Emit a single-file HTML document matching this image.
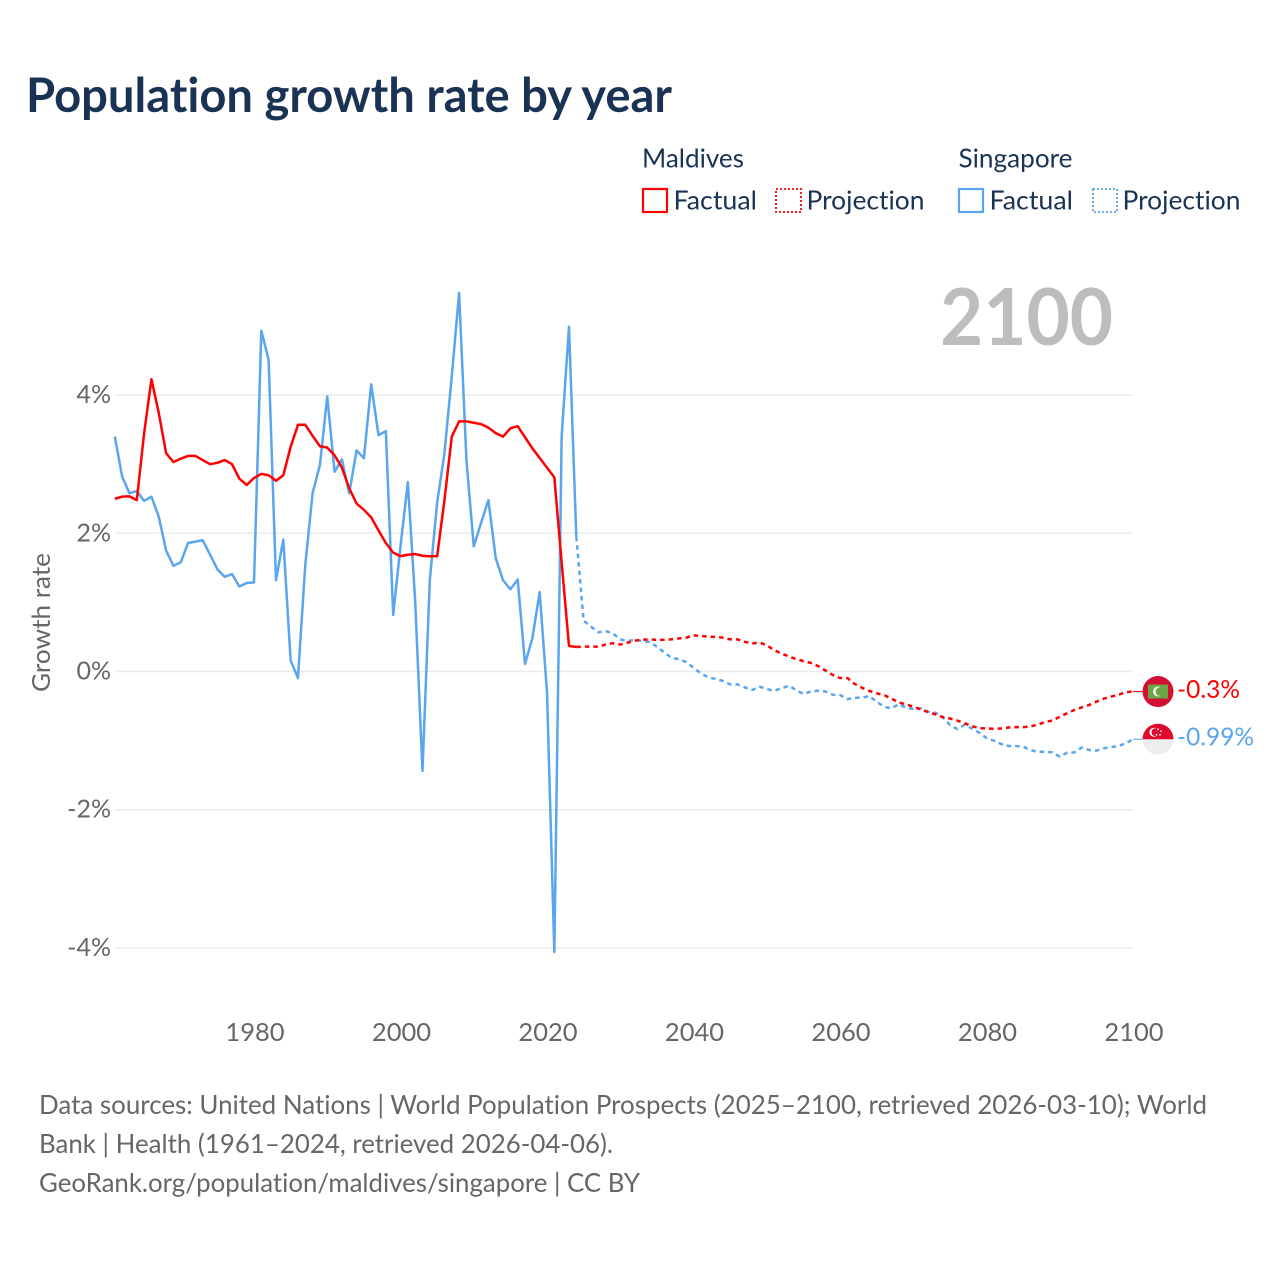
<!DOCTYPE html>
<html lang="en">
<head>
<meta charset="utf-8">
<title>Population growth rate by year</title>
<style>
html,body{margin:0;padding:0;background:#fff;width:1280px;height:1280px;overflow:hidden}
svg{display:block}
text{font-family:"Lato","Carlito","Liberation Sans",sans-serif;font-variant-ligatures:none}
</style>
</head>
<body>
<svg id="chart" width="1280" height="1280" viewBox="0 0 1280 1280" xmlns="http://www.w3.org/2000/svg">
  <text x="26" y="112" font-size="48" font-weight="700" fill="#1a3354" textLength="646" lengthAdjust="spacingAndGlyphs">Population growth rate by year</text>

  <g font-size="26" fill="#1a3354">
    <text x="642" y="167.5" textLength="102" lengthAdjust="spacingAndGlyphs">Maldives</text>
    <g>
      <rect x="643" y="189" width="24" height="23" fill="none" stroke="#ff0000" stroke-width="2.2"/>
      <text x="673.5" y="209.5" textLength="83.5" lengthAdjust="spacingAndGlyphs">Factual</text>
    </g>
    <g>
      <rect x="776" y="189" width="25" height="23" fill="none" stroke="#ff0000" stroke-width="1.8" stroke-dasharray="2 2"/>
      <text x="806.5" y="209.5" textLength="118" lengthAdjust="spacingAndGlyphs">Projection</text>
    </g>
    <text x="958.5" y="167.5" textLength="114" lengthAdjust="spacingAndGlyphs">Singapore</text>
    <g>
      <rect x="959" y="189" width="24" height="23" fill="none" stroke="#5aa5ee" stroke-width="2.2"/>
      <text x="989.5" y="209.5" textLength="83.5" lengthAdjust="spacingAndGlyphs">Factual</text>
    </g>
    <g>
      <rect x="1093" y="189" width="24" height="23" fill="none" stroke="#5aa5ee" stroke-width="1.8" stroke-dasharray="2 2"/>
      <text x="1122.5" y="209.5" textLength="118" lengthAdjust="spacingAndGlyphs">Projection</text>
    </g>
  </g>

  <text x="940" y="345" font-size="79" font-weight="700" fill="#bdbdbd" textLength="173" lengthAdjust="spacingAndGlyphs">2100</text>

  <g id="grid"></g>
  <g id="yticks"></g>
  <g id="xticks"></g>
  <text transform="translate(50 692) rotate(-90)" font-size="25" fill="#666666" textLength="139" lengthAdjust="spacingAndGlyphs">Growth rate</text>
  <g id="series"></g>

  <g id="flag-maldives">
    <circle cx="0" cy="0" r="15.5" fill="#d21034"/>
    <rect x="-10" y="-7" width="20" height="14" fill="#6aa644"/>
    <circle cx="0" cy="0" r="5" fill="#f4f4f4"/>
    <circle cx="2" cy="0" r="4.3" fill="#6aa644"/>
  </g>
  <g id="flag-singapore">
    <circle cx="0" cy="0" r="15.5" fill="#eeeeee"/>
    <path d="M-15.5 0A15.5 15.5 0 0 1 15.5 0Z" fill="#e00b2c"/>
    <circle cx="-4" cy="-7" r="4.5" fill="#ffffff"/>
    <circle cx="-2.5" cy="-7" r="4" fill="#e00b2c"/>
    <circle cx="0" cy="-10" r="0.9" fill="#ffffff"/>
    <circle cx="3" cy="-8" r="0.9" fill="#ffffff"/>
    <circle cx="2" cy="-4.5" r="0.9" fill="#ffffff"/>
    <circle cx="-1.5" cy="-4.5" r="0.9" fill="#ffffff"/>
  </g>
  <text id="label-maldives" x="1177" font-size="25.5" fill="#ff0000" textLength="63" lengthAdjust="spacingAndGlyphs"></text>
  <text id="label-singapore" x="1177" font-size="25.5" fill="#5aa5ee" textLength="77" lengthAdjust="spacingAndGlyphs"></text>

  <g font-size="26" fill="#666666">
    <text x="39" y="1114" textLength="1168" lengthAdjust="spacingAndGlyphs">Data sources: United Nations | World Population Prospects (2025–2100, retrieved 2026-03-10); World</text>
    <text x="39" y="1153" textLength="574" lengthAdjust="spacingAndGlyphs">Bank | Health (1961–2024, retrieved 2026-04-06).</text>
    <text x="39" y="1192" textLength="601" lengthAdjust="spacingAndGlyphs">GeoRank.org/population/maldives/singapore | CC BY</text>
  </g>
</svg>
<script>
const yTickValues = [4, 2, 0, -2, -4];
const xTickYears = [1980, 2000, 2020, 2040, 2060, 2080, 2100];
const factualStartYear = 1961;
const projectionStartYear = 2024;

const maldivesFactual = [2.50,2.53,2.535,2.48,3.45,4.23,3.74,3.16,3.03,3.08,3.12,3.12,3.06,3.0,3.02,3.06,3.0,2.79,2.70,2.80,2.86,2.84,2.76,2.84,3.25,3.57,3.57,3.41,3.26,3.24,3.13,2.95,2.65,2.43,2.34,2.23,2.04,1.86,1.72,1.67,1.69,1.70,1.675,1.667,1.667,2.48,3.40,3.62,3.62,3.60,3.58,3.53,3.45,3.40,3.52,3.55,3.39,3.23,3.09,2.95,2.81,1.58,0.37,0.355];
const maldivesProjection = [0.355,0.36,0.36,0.36,0.39,0.41,0.39,0.417,0.446,0.46,0.465,0.456,0.46,0.465,0.48,0.49,0.523,0.515,0.505,0.50,0.49,0.465,0.465,0.43,0.405,0.42,0.38,0.31,0.26,0.22,0.18,0.15,0.125,0.08,0.015,-0.05,-0.095,-0.094,-0.18,-0.234,-0.28,-0.316,-0.34,-0.39,-0.446,-0.475,-0.51,-0.547,-0.586,-0.62,-0.66,-0.68,-0.71,-0.75,-0.79,-0.82,-0.823,-0.83,-0.825,-0.81,-0.805,-0.805,-0.795,-0.77,-0.73,-0.71,-0.654,-0.605,-0.557,-0.52,-0.485,-0.437,-0.394,-0.365,-0.336,-0.30,-0.29];
const singaporeFactual = [3.40,2.82,2.58,2.61,2.47,2.53,2.24,1.75,1.53,1.58,1.86,1.88,1.90,1.69,1.48,1.37,1.41,1.23,1.28,1.29,4.93,4.51,1.32,1.91,0.16,-0.095,1.54,2.58,2.99,3.98,2.89,3.07,2.58,3.20,3.085,4.155,3.42,3.48,0.82,1.81,2.74,1.03,-1.44,1.32,2.44,3.16,4.27,5.48,3.06,1.81,2.15,2.48,1.64,1.32,1.19,1.33,0.11,0.48,1.15,-0.30,-4.06,3.40,4.99,1.95];
const singaporeProjection = [1.95,0.735,0.65,0.567,0.586,0.55,0.466,0.44,0.46,0.44,0.427,0.36,0.277,0.20,0.177,0.137,0.055,-0.026,-0.084,-0.108,-0.137,-0.186,-0.186,-0.23,-0.268,-0.22,-0.253,-0.28,-0.243,-0.205,-0.268,-0.326,-0.29,-0.278,-0.29,-0.336,-0.34,-0.40,-0.38,-0.38,-0.355,-0.437,-0.51,-0.533,-0.475,-0.52,-0.543,-0.533,-0.58,-0.596,-0.654,-0.774,-0.832,-0.774,-0.823,-0.885,-0.962,-1.0,-1.05,-1.078,-1.078,-1.088,-1.136,-1.165,-1.16,-1.17,-1.233,-1.175,-1.17,-1.10,-1.136,-1.146,-1.11,-1.095,-1.078,-1.04,-0.98];
const endLabelMaldives = "-0.3%";
const endLabelSingapore = "-0.99%";

const NS = "http://www.w3.org/2000/svg";
function xScale(year) { return 254 + (year - 1980) * (1133 - 254) / 120; }
function yScale(value) { return 671.5 - value * 69.1; }

function linePath(startYear, values) {
  return values.map(function (v, i) {
    return (i ? "L" : "M") + xScale(startYear + i).toFixed(2) + " " + yScale(v).toFixed(2);
  }).join("");
}

const grid = document.getElementById("grid");
const yTicks = document.getElementById("yticks");
yTickValues.forEach(function (v) {
  const line = document.createElementNS(NS, "line");
  
  
  line.setAttribute("x1", 115);
  line.setAttribute("x2", 1133);
  line.setAttribute("y1", yScale(v));
  line.setAttribute("y2", yScale(v));
  line.setAttribute("stroke", "#ebebeb");
  line.setAttribute("stroke-width", "1.5");
  grid.appendChild(line);
  const t = document.createElementNS(NS, "text");
  
  
  t.setAttribute("x", 111);
  t.setAttribute("y", yScale(v) + 8);
  t.setAttribute("text-anchor", "end");
  t.setAttribute("font-size", "25");
  t.setAttribute("fill", "#666666");
  t.textContent = v + "%";
  yTicks.appendChild(t);
});

const xTicks = document.getElementById("xticks");
xTickYears.forEach(function (y) {
  const t = document.createElementNS(NS, "text");
  
  
  t.setAttribute("x", xScale(y) + 1);
  t.setAttribute("y", 1041);
  t.setAttribute("text-anchor", "middle");
  t.setAttribute("font-size", "25.5");
  t.setAttribute("fill", "#666666");
  t.textContent = y;
  xTicks.appendChild(t);
});

const seriesGroup = document.getElementById("series");
function addLine(name, startYear, values, color, dash) {
  const p = document.createElementNS(NS, "path");
  
  
  p.setAttribute("d", linePath(startYear, values));
  p.setAttribute("fill", "none");
  p.setAttribute("stroke", color);
  p.setAttribute("stroke-width", "2.5");
  p.setAttribute("stroke-linejoin", "round");
  if (dash) p.setAttribute("stroke-dasharray", dash);
  seriesGroup.appendChild(p);
}
function addConnector(name, value, color) {
  const c = document.createElementNS(NS, "line");
  
  
  c.setAttribute("x1", xScale(2100));
  c.setAttribute("x2", 1143);
  c.setAttribute("y1", yScale(value));
  c.setAttribute("y2", yScale(value));
  c.setAttribute("stroke", color);
  c.setAttribute("stroke-width", "1");
  seriesGroup.appendChild(c);
}
addLine("singapore-factual-line", factualStartYear, singaporeFactual, "#5aa5ee", null);
addLine("singapore-projection-line", projectionStartYear, singaporeProjection, "#5aa5ee", "4.5 4");
addLine("maldives-factual-line", factualStartYear, maldivesFactual, "#ff0000", null);
addLine("maldives-projection-line", projectionStartYear, maldivesProjection, "#ff0000", "4.5 4");

const lastMaldives = maldivesProjection[maldivesProjection.length - 1];
const lastSingapore = singaporeProjection[singaporeProjection.length - 1];
addConnector("maldives-end-connector", lastMaldives, "#ff0000");
addConnector("singapore-end-connector", lastSingapore, "#5aa5ee");

document.getElementById("flag-maldives").setAttribute("transform", "translate(1158 " + yScale(lastMaldives) + ")");
document.getElementById("flag-singapore").setAttribute("transform", "translate(1158 " + yScale(lastSingapore) + ")");
const labelM = document.getElementById("label-maldives");
labelM.setAttribute("y", yScale(lastMaldives) + 6.5);
labelM.textContent = endLabelMaldives;
const labelS = document.getElementById("label-singapore");
labelS.setAttribute("y", yScale(lastSingapore) + 6.5);
labelS.textContent = endLabelSingapore;
</script>
</body>
</html>
